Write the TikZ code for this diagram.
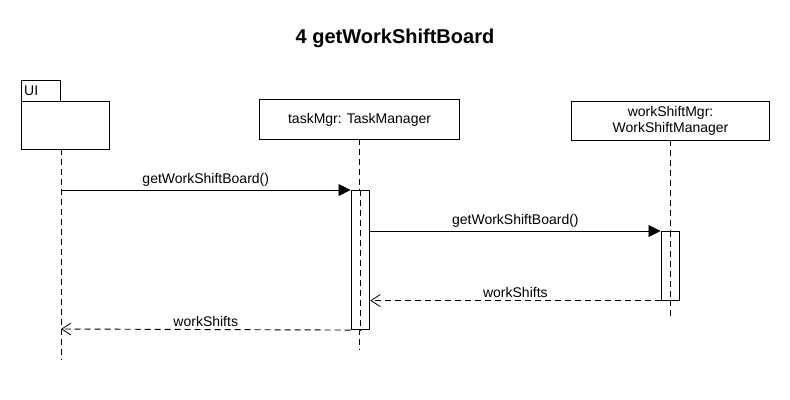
\documentclass[tikz,border=0pt]{standalone}
\usepackage{fontspec}
\setmainfont{Liberation Sans}
\usetikzlibrary{arrows.meta}
\begin{document}
\begin{tikzpicture}[x=0.75pt,y=-0.75pt,
  box/.style={draw,line width=0.8pt,inner sep=0pt,anchor=north west,font=\fontsize{10.5}{12.5}\selectfont,align=center},
  act/.style={draw,fill=white,line width=0.8pt,inner sep=0pt,anchor=north west,minimum width=14pt},
  life/.style={line width=0.7pt,dash pattern=on 4.5pt off 3pt},
  call/.style={line width=0.7pt,-{Triangle[length=9pt,width=9pt]}},
  ret/.style={line width=0.7pt,dash pattern=on 4.5pt off 3pt,-{Straight Barb[length=7pt,width=9pt,line width=0.6pt]}},
  lbl/.style={font=\fontsize{10.5}{12.5}\selectfont,above,inner sep=2pt}]
\useasboundingbox (0,0) rectangle (790,400);
\node[font=\bfseries\fontsize{15}{18}\selectfont] (title) at (395,38) {4 getWorkShiftBoard};
% UI package
\node[box,minimum width=36*0.75pt,minimum height=21*0.75pt,anchor=north west,text width=34*0.75pt,align=left,inner xsep=2pt] (uitab) at (21,80) {UI};
\node[box,minimum width=88*0.75pt,minimum height=48*0.75pt] (ui) at (21,101) {};
% lifeline heads
\node[box,minimum width=200*0.75pt,minimum height=40*0.75pt] (tm) at (259,99) {taskMgr: TaskManager};
\node[box,minimum width=198*0.75pt,minimum height=39*0.75pt] (ws) at (571,101) {workShiftMgr:\\WorkShiftManager};
% lifeline ends
\coordinate (uiS) at (61,149);
\coordinate (uiE) at (61,360);
\coordinate (tmS) at (359,139);
\coordinate (tmE) at (359,350);
\coordinate (wsS) at (670,140);
\coordinate (wsE) at (670,318);
\draw[life] (uiS) -- (uiE);
\draw[life] (tmS) -- (tmE);
\draw[life] (wsS) -- (wsE);
% activations
\node[act,minimum height=139*0.75pt] (tmA) at (350.5,190) {};
\node[act,minimum height=68.5*0.75pt] (wsA) at (660.5,231) {};
\draw[life] (tmA.north) -- (tmA.south);
\draw[life] (wsA.north) -- (wsA.south);
% message points
\coordinate (m1s) at (61,190);
\coordinate (m4e) at (61,329);
% messages
\draw[call] (m1s) -- node[lbl]{getWorkShiftBoard()} (tmA.north west);
\draw[call] (tmA.east |- wsA.north) -- node[lbl]{getWorkShiftBoard()} (wsA.north west);
\draw[ret] (wsA.south west) -- node[lbl]{workShifts} (tmA.east |- wsA.south);
\draw[ret] (tmA.south west) -- node[lbl]{workShifts} (m4e);
\end{tikzpicture}
\end{document}
